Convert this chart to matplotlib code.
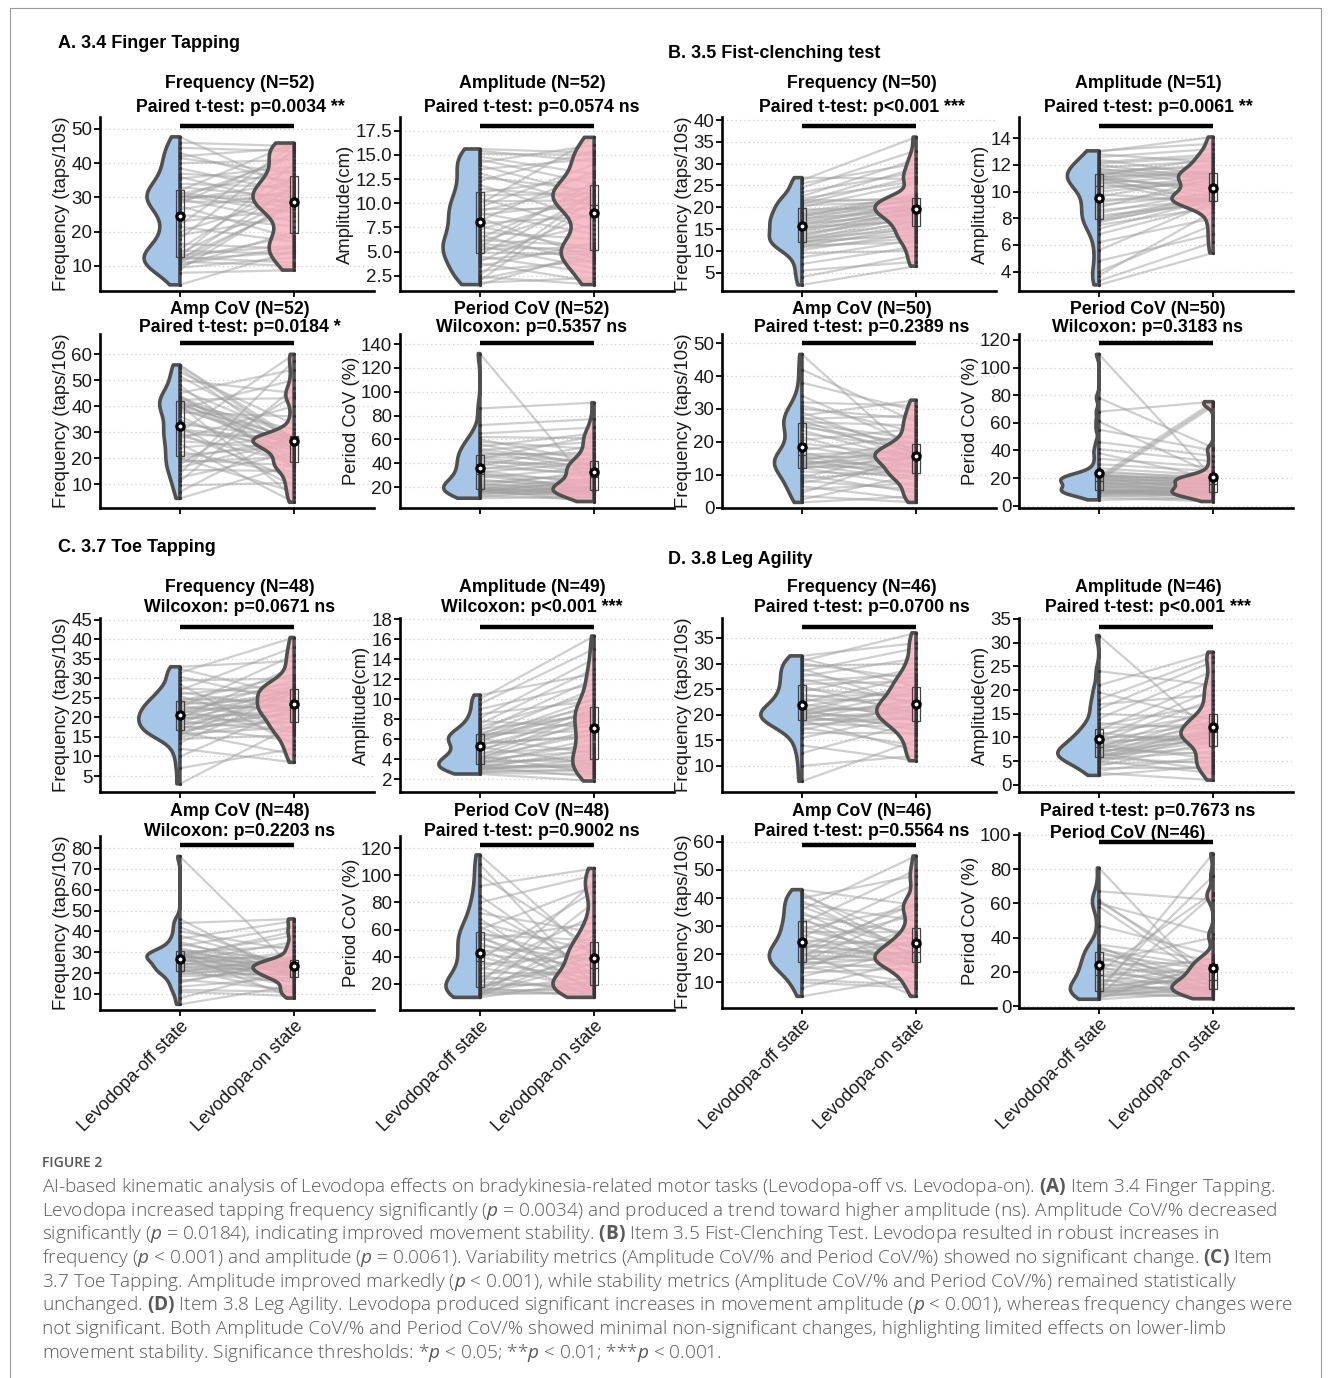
import numpy as np
import matplotlib
matplotlib.use("Agg")
import matplotlib.pyplot as plt
from matplotlib.patches import Polygon
from matplotlib.collections import LineCollection
from matplotlib.lines import Line2D

# ---- values (paired: off[i] <-> on[i]) ----
# A. 3.4 Finger tapping
a_freq_off = [4.5, 8.0, 9.0, 9.5, 10.0, 10.5, 11.0, 11.3, 11.6, 11.9, 12.0, 12.2, 12.5, 12.8, 13.2, 13.8, 14.5, 15.0, 16.5, 18.0, 19.0, 20.0, 21.5, 22.0, 23.0, 25.0, 26.5, 27.5, 28.2, 28.8, 29.2, 29.5, 29.8, 30.1, 30.4, 30.7, 31.0, 31.4, 32.0, 33.0, 34.0, 35.5, 36.0, 37.0, 38.5, 40.0, 41.5, 42.0, 43.0, 44.5, 46.0, 47.7]
a_freq_on = [14.5, 8.8, 29.3, 12.5, 20.0, 15.5, 28.3, 10.0, 33.5, 14.0, 18.8, 27.5, 11.0, 40.0, 16.0, 29.6, 13.5, 36.0, 15.0, 44.0, 24.5, 30.5, 17.0, 45.5, 26.5, 21.5, 32.0, 18.0, 43.0, 28.6, 34.5, 23.0, 42.0, 31.0, 29.0, 25.5, 38.0, 27.0, 45.9, 30.0, 33.0, 39.0, 28.0, 35.0, 31.5, 41.0, 37.0, 44.5, 34.0, 43.5, 45.0, 32.5]
a_amp_off = [1.6, 1.8, 2.0, 2.2, 2.4, 2.6, 3.0, 3.5, 3.8, 4.0, 4.2, 4.5, 4.7, 4.9, 5.1, 5.3, 5.5, 5.6, 5.8, 6.0, 6.2, 6.4, 6.7, 7.0, 7.3, 7.6, 7.9, 8.2, 8.5, 8.8, 9.0, 9.2, 9.4, 9.6, 9.9, 10.2, 10.5, 10.8, 11.1, 11.5, 11.9, 12.3, 12.7, 13.1, 13.5, 13.9, 14.2, 14.5, 14.8, 15.1, 15.4, 15.6]
a_amp_on = [5.0, 2.3, 10.5, 4.5, 1.6, 11.1, 4.1, 5.9, 1.9, 9.1, 5.2, 2.8, 10.9, 4.7, 7.8, 5.4, 12.2, 3.3, 4.9, 9.9, 5.6, 11.5, 3.8, 6.3, 10.7, 5.1, 8.7, 13.3, 4.3, 10.1, 6.8, 11.8, 9.4, 14.0, 16.8, 10.3, 7.3, 11.0, 12.7, 10.6, 8.3, 15.4, 11.3, 9.7, 14.6, 10.8, 16.0, 12.0, 13.0, 15.0, 14.3, 15.2]
a_ampcov_off = [4.5, 7.0, 9.5, 11.0, 12.5, 14.0, 15.5, 16.5, 17.5, 18.5, 19.3, 19.8, 20.0, 21.0, 22.5, 24.0, 25.5, 26.5, 27.5, 28.5, 29.0, 29.5, 30.0, 30.5, 31.0, 32.0, 33.0, 34.5, 36.0, 37.5, 38.5, 39.0, 39.5, 40.0, 40.4, 40.8, 41.2, 41.6, 42.0, 42.5, 43.0, 43.5, 44.0, 45.0, 46.5, 48.0, 50.0, 51.5, 53.0, 54.5, 55.5, 55.8]
a_ampcov_on = [17.5, 29.5, 10.5, 47.0, 22.0, 57.5, 15.0, 26.6, 44.0, 20.5, 17.2, 27.3, 7.0, 25.0, 13.5, 28.0, 3.0, 23.5, 40.0, 18.5, 27.9, 12.0, 59.9, 24.5, 26.9, 9.0, 28.2, 21.3, 16.8, 36.0, 26.3, 50.0, 22.5, 27.7, 5.0, 25.5, 31.0, 19.5, 27.1, 43.0, 24.0, 26.8, 17.7, 54.0, 28.1, 16.0, 45.0, 27.5, 33.0, 23.0, 26.0, 27.4]
a_percov_off = [10.7, 12.0, 13.0, 14.0, 14.8, 15.5, 16.0, 16.5, 17.0, 17.3, 17.6, 17.8, 18.0, 18.5, 19.0, 19.5, 20.0, 21.0, 22.0, 23.0, 24.0, 25.0, 26.5, 28.0, 29.5, 31.0, 31.5, 32.5, 33.5, 35.0, 36.5, 38.0, 39.5, 41.0, 42.5, 43.5, 44.5, 45.5, 47.0, 48.0, 50.0, 51.0, 52.0, 54.0, 56.0, 58.0, 60.0, 62.0, 65.0, 72.0, 86.0, 132.0]
a_percov_on = [12.0, 17.8, 9.5, 21.0, 14.0, 16.5, 26.5, 11.0, 19.5, 7.9, 15.5, 24.0, 13.0, 17.0, 28.0, 14.8, 18.6, 33.5, 20.0, 16.0, 30.5, 22.0, 17.4, 36.5, 19.0, 25.0, 18.2, 40.5, 23.0, 45.0, 31.5, 55.0, 29.5, 38.5, 32.5, 63.0, 34.5, 42.4, 49.0, 47.0, 35.5, 58.0, 39.5, 65.0, 37.5, 52.0, 41.5, 61.0, 70.0, 77.0, 90.8, 18.0]

# B. 3.5 Fist-clenching
b_freq_off = [2.2, 4.0, 5.5, 7.0, 8.5, 9.5, 10.2, 10.8, 11.0, 11.2, 11.5, 11.8, 12.0, 12.2, 12.5, 12.8, 13.0, 13.3, 13.6, 14.0, 14.4, 14.8, 15.1, 15.4, 15.7, 16.0, 16.3, 16.6, 16.9, 17.2, 17.5, 17.8, 18.1, 18.3, 18.6, 19.0, 19.5, 20.0, 20.5, 20.8, 21.0, 21.3, 21.6, 22.0, 22.5, 23.5, 24.5, 25.5, 26.2, 26.8]
b_freq_on = [6.5, 9.0, 7.5, 11.0, 12.5, 10.0, 14.0, 13.0, 15.5, 12.0, 14.5, 16.0, 17.0, 13.5, 18.0, 15.0, 16.5, 18.5, 19.0, 17.5, 19.2, 18.8, 20.0, 16.8, 19.5, 21.0, 18.2, 19.8, 20.5, 22.0, 19.4, 23.0, 20.2, 21.5, 21.6, 22.5, 19.7, 25.5, 21.2, 27.0, 22.2, 29.0, 21.8, 26.0, 31.0, 28.0, 33.0, 30.0, 36.1, 26.5]
b_amp_off = [3.0, 3.3, 3.7, 4.0, 4.8, 5.6, 6.2, 6.8, 7.2, 7.5, 7.7, 7.8, 7.9, 8.0, 8.2, 8.4, 8.6, 8.8, 9.0, 9.2, 9.4, 9.6, 9.8, 10.0, 10.2, 10.4, 10.6, 10.8, 10.9, 11.0, 11.1, 11.2, 11.3, 11.4, 11.5, 11.6, 11.8, 12.0, 11.2, 11.0, 12.2, 12.4, 12.6, 12.8, 13.0, 11.7, 10.7, 11.1, 12.1, 13.06, 10.9]
b_amp_on = [5.4, 6.2, 8.5, 7.5, 6.8, 9.2, 8.0, 9.0, 9.4, 8.8, 9.5, 9.3, 9.6, 9.7, 9.1, 10.0, 9.4, 11.0, 9.8, 10.3, 9.5, 11.2, 9.3, 10.8, 11.1, 10.5, 11.3, 9.6, 11.4, 10.2, 11.5, 9.9, 11.6, 12.0, 10.6, 11.8, 12.3, 11.0, 12.5, 9.2, 12.8, 11.2, 13.2, 12.2, 14.1, 10.9, 9.0, 11.4, 12.6, 13.6, 10.4]
b_ampcov_off = [1.6, 2.5, 3.5, 4.5, 5.5, 6.5, 7.5, 8.2, 8.8, 9.2, 10.0, 11.0, 12.0, 12.2, 12.5, 12.8, 13.1, 13.4, 13.7, 14.0, 14.3, 14.6, 15.0, 15.4, 15.8, 16.2, 16.8, 17.5, 18.5, 19.5, 20.5, 21.5, 22.5, 23.5, 24.5, 25.0, 25.5, 26.0, 26.5, 27.0, 27.5, 28.0, 29.0, 30.0, 31.0, 32.0, 34.0, 38.0, 42.0, 46.6]
b_ampcov_on = [3.5, 10.0, 1.6, 16.1, 7.5, 2.5, 14.0, 5.5, 11.5, 17.4, 4.5, 9.7, 15.2, 6.5, 12.5, 18.6, 8.5, 15.7, 10.5, 13.0, 20.2, 9.2, 16.5, 11.0, 14.6, 17.1, 10.3, 22.0, 13.5, 15.9, 24.0, 12.0, 18.2, 14.3, 19.5, 16.8, 21.0, 25.0, 14.9, 28.0, 17.8, 32.7, 16.3, 27.0, 23.0, 31.0, 18.9, 29.5, 26.0, 15.5]
b_percov_off = [4.2, 6.0, 7.0, 7.8, 8.4, 8.9, 9.3, 9.6, 9.9, 10.1, 10.3, 10.6, 11.0, 11.5, 12.0, 12.6, 13.2, 13.8, 14.4, 15.0, 15.6, 16.2, 16.8, 17.2, 17.6, 18.0, 18.4, 18.8, 19.2, 19.6, 20.0, 20.4, 20.8, 21.2, 21.6, 22.0, 22.2, 23.5, 25.0, 27.0, 30.0, 34.0, 38.0, 41.0, 46.0, 55.0, 61.0, 68.0, 78.0, 109.6]
b_percov_on = [5.5, 3.0, 8.0, 4.5, 9.0, 7.0, 12.0, 6.3, 10.5, 8.6, 14.0, 7.5, 9.6, 11.0, 8.3, 13.0, 15.5, 8.8, 12.5, 17.0, 10.0, 16.5, 13.5, 9.3, 19.0, 72.0, 14.5, 18.0, 73.5, 11.5, 16.0, 20.1, 75.0, 15.0, 19.6, 17.5, 18.5, 21.0, 19.3, 22.0, 25.0, 28.0, 19.9, 32.0, 36.0, 40.0, 23.0, 75.3, 42.0, 20.3]

# C. 3.7 Toe tapping
c_freq_off = [3.0, 7.0, 10.0, 12.0, 13.5, 14.5, 15.0, 15.5, 15.8, 16.0, 16.3, 16.6, 17.0, 17.4, 17.8, 18.0, 18.2, 18.6, 19.0, 19.4, 19.6, 19.8, 20.0, 20.2, 20.6, 21.0, 21.4, 21.8, 22.0, 22.2, 22.6, 23.0, 23.4, 23.8, 24.0, 24.2, 24.8, 25.5, 26.0, 26.5, 27.0, 27.5, 28.5, 29.5, 30.5, 31.5, 32.5, 33.0]
c_freq_on = [18.0, 12.0, 22.5, 8.5, 26.5, 15.5, 20.0, 27.5, 17.5, 23.0, 10.5, 21.5, 27.0, 19.0, 14.0, 24.5, 21.0, 28.0, 16.5, 26.0, 22.0, 33.0, 18.5, 27.2, 20.5, 29.5, 23.5, 16.0, 26.8, 22.8, 36.0, 19.5, 25.0, 27.8, 21.8, 31.0, 24.0, 17.0, 28.5, 22.2, 38.0, 26.2, 13.0, 30.0, 23.8, 40.5, 25.5, 34.5]
c_amp_off = [2.5, 2.6, 2.7, 2.8, 2.9, 3.0, 3.0, 3.1, 3.2, 3.3, 3.4, 3.5, 3.6, 3.7, 3.8, 3.9, 4.0, 4.1, 4.2, 4.3, 4.4, 4.6, 4.8, 5.0, 5.2, 5.4, 5.6, 5.8, 5.9, 6.0, 6.1, 6.2, 6.3, 6.4, 6.5, 6.6, 6.8, 7.0, 7.2, 7.5, 7.8, 8.1, 8.5, 9.0, 9.5, 10.0, 10.4, 3.2, 5.5]
c_amp_on = [1.8, 2.5, 3.0, 2.8, 4.0, 3.3, 3.6, 5.0, 2.2, 4.5, 3.1, 6.0, 4.2, 5.5, 3.8, 7.0, 4.8, 8.0, 6.5, 2.6, 8.5, 5.2, 9.0, 7.5, 3.5, 8.2, 6.2, 9.5, 8.8, 4.6, 10.0, 7.8, 8.6, 11.0, 6.8, 9.2, 12.0, 8.4, 10.5, 13.0, 7.2, 14.0, 9.8, 11.5, 15.0, 16.3, 12.5, 3.4, 6.4]
c_ampcov_off = [5.0, 8.0, 11.0, 13.5, 15.5, 17.0, 18.5, 19.5, 20.0, 20.5, 21.0, 21.5, 22.0, 22.5, 23.0, 23.5, 24.0, 24.5, 25.0, 25.5, 26.0, 26.5, 27.0, 27.5, 28.0, 28.3, 28.6, 29.0, 29.3, 29.6, 30.0, 30.5, 31.0, 32.0, 33.0, 34.0, 35.0, 36.5, 38.0, 40.0, 42.0, 44.0, 46.0, 12.0, 16.0, 27.8, 28.8, 76.0]
c_ampcov_on = [14.0, 22.0, 9.0, 18.0, 26.0, 12.0, 20.0, 24.0, 16.0, 28.0, 19.0, 23.0, 10.5, 25.0, 17.0, 21.0, 30.0, 22.5, 18.5, 35.0, 24.5, 20.5, 13.0, 27.0, 23.5, 19.5, 38.0, 21.5, 25.5, 15.0, 33.0, 22.8, 26.5, 18.8, 42.0, 24.2, 20.2, 45.0, 23.2, 31.0, 21.8, 46.0, 17.5, 11.0, 25.2, 40.0, 8.0, 22.2]
c_percov_off = [10.0, 11.0, 12.0, 12.5, 13.0, 13.5, 14.0, 14.5, 15.0, 15.5, 16.0, 17.0, 18.0, 19.0, 20.0, 21.5, 23.0, 24.5, 26.0, 28.0, 30.0, 32.0, 34.0, 36.0, 38.0, 40.0, 42.0, 44.0, 46.0, 48.0, 50.0, 52.0, 54.0, 55.0, 56.0, 58.0, 60.0, 62.0, 65.0, 68.0, 72.0, 76.0, 80.0, 85.0, 92.0, 100.0, 108.0, 115.0]
c_percov_on = [22.0, 45.0, 14.0, 60.0, 18.0, 35.0, 12.0, 80.0, 25.0, 15.0, 50.0, 11.0, 40.0, 20.0, 95.0, 16.0, 30.0, 55.0, 13.0, 28.0, 70.0, 17.0, 42.0, 24.0, 88.0, 19.0, 33.0, 48.0, 10.0, 38.0, 21.0, 65.0, 27.0, 15.5, 52.0, 36.0, 92.0, 23.0, 44.0, 12.5, 58.0, 31.0, 100.0, 26.0, 105.0, 46.0, 18.5, 40.5]

# D. 3.8 Leg agility
d_freq_off = [7.0, 10.0, 12.5, 14.0, 15.5, 16.5, 17.0, 17.5, 18.0, 18.3, 18.6, 18.9, 19.2, 19.4, 19.6, 19.8, 20.0, 20.2, 20.4, 20.6, 20.8, 21.0, 21.3, 21.6, 22.0, 22.4, 22.8, 23.2, 23.6, 24.0, 24.5, 25.0, 25.5, 26.0, 26.5, 27.0, 27.5, 28.0, 28.5, 29.0, 29.5, 30.0, 30.5, 31.0, 31.5, 19.0]
d_freq_on = [15.0, 12.0, 18.5, 11.0, 20.0, 16.5, 22.0, 14.0, 19.5, 17.5, 21.0, 13.0, 23.0, 18.0, 20.5, 24.5, 16.0, 22.5, 19.0, 26.0, 21.5, 17.0, 20.8, 25.0, 19.8, 27.5, 22.8, 18.8, 24.0, 21.2, 29.0, 23.5, 20.2, 26.5, 28.0, 22.2, 31.0, 24.8, 33.0, 21.8, 30.0, 27.0, 36.0, 25.5, 34.0, 19.2]
d_amp_off = [2.0, 2.5, 3.0, 3.5, 4.0, 4.5, 4.8, 5.0, 5.3, 5.5, 5.7, 5.9, 6.1, 6.3, 6.5, 6.7, 6.9, 7.1, 7.3, 7.5, 7.7, 7.9, 8.1, 8.4, 8.7, 9.0, 9.3, 9.6, 9.9, 10.2, 10.6, 11.0, 11.5, 12.0, 12.5, 13.0, 14.0, 15.0, 16.0, 17.0, 18.0, 19.5, 21.0, 24.0, 31.5, 6.0]
d_amp_on = [4.0, 1.0, 6.0, 3.5, 9.0, 5.0, 10.5, 2.5, 11.5, 7.0, 4.5, 12.0, 8.0, 10.0, 13.5, 3.0, 11.0, 9.5, 14.5, 6.5, 10.8, 16.0, 12.5, 5.5, 11.2, 18.0, 9.8, 13.0, 20.0, 10.2, 15.0, 8.5, 22.0, 12.8, 17.0, 11.8, 24.0, 14.0, 26.0, 19.0, 27.0, 13.8, 28.0, 21.0, 10.6, 9.2]
d_ampcov_off = [5.0, 8.0, 10.0, 12.0, 13.5, 14.5, 15.0, 15.5, 16.0, 16.5, 17.0, 17.5, 18.0, 18.5, 19.0, 19.5, 20.0, 20.5, 21.0, 21.5, 22.0, 22.5, 23.0, 23.5, 24.0, 25.0, 26.0, 27.0, 28.0, 28.5, 29.0, 30.0, 31.0, 32.0, 33.0, 34.0, 35.0, 36.0, 37.0, 38.0, 39.0, 40.0, 41.0, 42.0, 43.0, 11.0]
d_ampcov_on = [12.0, 18.0, 8.0, 22.0, 15.0, 30.0, 17.0, 10.0, 25.0, 19.0, 36.0, 14.0, 21.0, 17.5, 40.0, 18.5, 24.0, 5.0, 20.0, 38.0, 16.0, 26.0, 19.5, 34.0, 18.2, 23.0, 45.0, 15.5, 28.0, 20.5, 37.0, 17.8, 50.0, 22.5, 13.0, 27.0, 16.5, 55.0, 21.5, 32.0, 19.2, 48.0, 24.5, 18.8, 37.5, 9.0]
d_percov_off = [4.1, 4.8, 5.5, 6.0, 6.5, 7.0, 7.4, 7.8, 8.1, 8.4, 8.7, 9.0, 9.5, 10.0, 10.5, 11.0, 12.0, 13.0, 14.0, 15.0, 16.0, 17.0, 18.0, 19.0, 20.0, 21.0, 22.0, 23.0, 24.0, 25.0, 26.0, 27.5, 29.0, 30.5, 32.0, 33.0, 34.0, 35.0, 36.0, 47.0, 58.0, 60.0, 61.0, 62.0, 67.0, 80.6]
d_percov_on = [8.0, 25.0, 12.0, 65.0, 6.0, 9.0, 20.0, 14.0, 89.0, 5.0, 10.5, 18.0, 7.0, 22.0, 11.0, 76.0, 16.0, 8.5, 24.0, 13.0, 4.4, 28.0, 9.5, 15.0, 66.0, 10.0, 19.0, 7.5, 26.0, 12.5, 40.0, 17.0, 9.2, 21.0, 11.5, 23.0, 14.5, 6.5, 27.0, 30.0, 13.5, 42.0, 20.5, 16.5, 62.0, 10.8]

state_labels = ["Levodopa-off state", "Levodopa-on state"]

# ---- style ----
W, H = 1333, 1378
plt.rcParams['font.family'] = ['Liberation Sans', 'DejaVu Sans']
plt.rcParams['mathtext.fontset'] = 'custom'
plt.rcParams['mathtext.rm'] = 'Open Sans'
plt.rcParams['mathtext.it'] = 'Open Sans:italic'
plt.rcParams['mathtext.bf'] = 'Open Sans:bold'

OFF_COL = '#a6c6e8'
ON_COL = '#f5aebc'
EDGE = '#505050'
TICK_FS = 13.5
LAB_FS = 13.3
TITLE_FS = 12.8


def fx(x):
    return x / W


def fy(y):
    return 1 - y / H


def kde(vals, adjust=0.8):
    v = np.asarray(vals, float)
    n = len(v)
    iqr = np.subtract(*np.percentile(v, [75, 25]))
    bw = adjust * 0.9 * min(v.std(ddof=1), iqr / 1.34) * n ** -0.2
    grid = np.linspace(v.min(), v.max(), 250)
    d = np.exp(-0.5 * ((grid[:, None] - v[None, :]) / bw) ** 2).sum(1)
    return grid, d / (n * bw * np.sqrt(2 * np.pi))


def half_violin(ax, pos, grid, width, color, alpha):
    xs = np.concatenate([[pos], pos - width, [pos]])
    ys = np.concatenate([[grid[0]], grid, [grid[-1]]])
    ax.add_patch(Polygon(np.column_stack([xs, ys]), closed=True, facecolor=color,
                         alpha=alpha, edgecolor='none', zorder=2))
    ax.add_patch(Polygon(np.column_stack([xs, ys]), closed=True, facecolor='none',
                         edgecolor=EDGE, lw=2.6, joinstyle='round', zorder=2.5))


def draw_panel(ax, off, on, ylim, ticks, fmt, ylabel, xlabels=False):
    ax.set_xlim(0.3, 2.7)
    ax.set_ylim(*ylim)
    for t in ticks:
        ax.axhline(t, color='#cfcfcf', lw=0.9, ls=(0, (1, 2.5)), zorder=0)

    segs = [[(1, a), (2, b)] for a, b in zip(off, on)]
    ax.add_collection(LineCollection(segs, colors='#a0a0a0', linewidths=1.6,
                                     alpha=0.5, zorder=1))

    g0, d0 = kde(off)
    g1, d1 = kde(on)
    s = 0.36 / max(d0.max(), d1.max())
    half_violin(ax, 1, g0, d0 * s, OFF_COL, 1.0)
    half_violin(ax, 2, g1, d1 * s, ON_COL, 0.8)

    ax.boxplot([off, on], positions=[1, 2], widths=0.075, showfliers=False,
               showcaps=False, patch_artist=True, manage_ticks=False,
               boxprops=dict(facecolor='none', edgecolor='#444444', lw=0.9),
               medianprops=dict(color='#444444', lw=0.9),
               whiskerprops=dict(color='#444444', lw=0.9), zorder=3)
    for pos, vals in ((1, off), (2, on)):
        ax.plot([pos] * len(vals), vals, 'o', ms=1.3, color='#333333', zorder=4)
        m = np.mean(vals)
        ax.plot(pos, m, 'o', ms=6.5, color='black', zorder=5)
        ax.plot(pos, m, 'o', ms=1.8, color='white', zorder=6)

    ybar = ylim[1] - 0.05 * (ylim[1] - ylim[0])
    ax.plot([1, 2], [ybar, ybar], color='black', lw=3.2, solid_capstyle='butt', zorder=6)

    for sp in ('top', 'right'):
        ax.spines[sp].set_visible(False)
    for sp in ('left', 'bottom'):
        ax.spines[sp].set_linewidth(1.9)
    ax.set_yticks(ticks)
    ax.set_yticklabels([fmt.format(t) for t in ticks])
    ax.set_xticks([1, 2])
    ax.tick_params(axis='both', length=4, width=1.3, labelsize=TICK_FS,
                   labelcolor='#1a1a1a', pad=1.5)
    if xlabels:
        ax.set_xticklabels(state_labels, rotation=45, ha='right', va='top',
                           rotation_mode='anchor', fontsize=13)
    else:
        ax.set_xticklabels([])
    ax.set_ylabel(ylabel, fontsize=LAB_FS, color='#1a1a1a', labelpad=1)


FREQ = "Frequency (taps/10s)"
AMP = "Amplitude(cm)"
PCOV = "Period CoV (%)"

col_left = [100, 400, 722, 1019]
col_title = [240, 532, 862, 1148]
rows = [(117, 291, 84, 107), (334, 508, 310, 328), (618, 792, 587, 608), (836, 1010, 811, 832)]

panels = [
    # row 1
    (a_freq_off, a_freq_on, (2.7, 53.5), range(10, 51, 10), "{:d}", FREQ, "Frequency (N=52)", "Paired t-test: p=0.0034 **"),
    (a_amp_off, a_amp_on, (0.94, 18.9), [2.5, 5, 7.5, 10, 12.5, 15, 17.5], "{:.1f}", AMP, "Amplitude (N=52)", "Paired t-test: p=0.0574 ns"),
    (b_freq_off, b_freq_on, (0.8, 40.7), range(5, 41, 5), "{:d}", FREQ, "Frequency (N=50)", "Paired t-test: p<0.001 ***"),
    (b_amp_off, b_amp_on, (2.54, 15.6), range(4, 15, 2), "{:d}", AMP, "Amplitude (N=51)", "Paired t-test: p=0.0061 **"),
    # row 2
    (a_ampcov_off, a_ampcov_on, (0.8, 67.7), range(10, 61, 10), "{:d}", FREQ, "Amp CoV (N=52)", "Paired t-test: p=0.0184 *"),
    (a_percov_off, a_percov_on, (2.5, 148.4), range(20, 141, 20), "{:d}", PCOV, "Period CoV (N=52)", "Wilcoxon: p=0.5357 ns"),
    (b_ampcov_off, b_ampcov_on, (-0.1, 52.8), range(0, 51, 10), "{:d}", FREQ, "Amp CoV (N=50)", "Paired t-test: p=0.2389 ns"),
    (b_percov_off, b_percov_on, (-1.7, 124.3), range(0, 121, 20), "{:d}", PCOV, "Period CoV (N=50)", "Wilcoxon: p=0.3183 ns"),
    # row 3
    (c_freq_off, c_freq_on, (0.9, 45.5), range(5, 46, 5), "{:d}", FREQ, "Frequency (N=48)", "Wilcoxon: p=0.0671 ns"),
    (c_amp_off, c_amp_on, (0.7, 18.1), range(2, 19, 2), "{:d}", AMP, "Amplitude (N=49)", "Wilcoxon: p<0.001 ***"),
    (d_freq_off, d_freq_on, (4.9, 38.9), range(10, 36, 5), "{:d}", FREQ, "Frequency (N=46)", "Paired t-test: p=0.0700 ns"),
    (d_amp_off, d_amp_on, (-1.5, 35.2), range(0, 36, 5), "{:d}", AMP, "Amplitude (N=46)", "Paired t-test: p<0.001 ***"),
    # row 4
    (c_ampcov_off, c_ampcov_on, (2.3, 85.8), range(10, 81, 10), "{:d}", FREQ, "Amp CoV (N=48)", "Wilcoxon: p=0.2203 ns"),
    (c_percov_off, c_percov_on, (0.7, 128.9), range(20, 121, 20), "{:d}", PCOV, "Period CoV (N=48)", "Paired t-test: p=0.9002 ns"),
    (d_ampcov_off, d_ampcov_on, (0.85, 62.1), range(10, 61, 10), "{:d}", FREQ, "Amp CoV (N=46)", "Paired t-test: p=0.5564 ns"),
    (d_percov_off, d_percov_on, (-1.0, 101.0), range(0, 101, 20), "{:d}", PCOV, "Paired t-test: p=0.7673 ns", "Period CoV (N=46)"),
]

fig = plt.figure(figsize=(W / 100, H / 100), dpi=100)
fig.patch.set_facecolor('white')

for i, (off, on, ylim, ticks, fmt, ylab, t1, t2) in enumerate(panels):
    r, c = divmod(i, 4)
    top, bot, ty1, ty2 = rows[r]
    left = col_left[c]
    if i == 15:
        top, bot = 833, 1008
    elif i == 14:
        bot = 1008
    ax = fig.add_axes([fx(left), fy(bot), 274 / W, (bot - top) / H])
    draw_panel(ax, off, on, ylim, list(ticks), fmt, ylab, xlabels=(r == 3))
    tx = col_title[c]
    if i == 15:
        fig.text(fx(1148), fy(811), t1, ha='center', va='center', fontsize=TITLE_FS, weight='bold')
        fig.text(fx(1128), fy(833), t2, ha='center', va='center', fontsize=TITLE_FS, weight='bold')
    else:
        fig.text(fx(tx), fy(ty1), t1, ha='center', va='center', fontsize=TITLE_FS, weight='bold')
        fig.text(fx(tx), fy(ty2), t2, ha='center', va='center', fontsize=TITLE_FS, weight='bold')

# block headers
for x, y, s in [(58, 43, "A. 3.4 Finger Tapping"), (668, 54, "B. 3.5 Fist-clenching test"),
                (58, 548, "C. 3.7 Toe Tapping"), (668, 559, "D. 3.8 Leg Agility")]:
    fig.text(fx(x), fy(y), s, ha='left', va='center', fontsize=13, weight='bold')

# caption
fig.text(fx(42), fy(1163), "FIGURE 2", ha='left', va='center', fontsize=10,
         color='#555555', family='Open Sans', weight='semibold')
caption = [
    r"AI-based kinematic analysis of Levodopa effects on bradykinesia-related motor tasks (Levodopa-off vs. Levodopa-on). $\mathbf{(A)}$ Item 3.4 Finger Tapping.",
    r"Levodopa increased tapping frequency significantly ($p$ = 0.0034) and produced a trend toward higher amplitude (ns). Amplitude CoV/% decreased",
    r"significantly ($p$ = 0.0184), indicating improved movement stability. $\mathbf{(B)}$ Item 3.5 Fist-Clenching Test. Levodopa resulted in robust increases in",
    r"frequency ($p$ < 0.001) and amplitude ($p$ = 0.0061). Variability metrics (Amplitude CoV/% and Period CoV/%) showed no significant change. $\mathbf{(C)}$ Item",
    r"3.7 Toe Tapping. Amplitude improved markedly ($p$ < 0.001), while stability metrics (Amplitude CoV/% and Period CoV/%) remained statistically",
    r"unchanged. $\mathbf{(D)}$ Item 3.8 Leg Agility. Levodopa produced significant increases in movement amplitude ($p$ < 0.001), whereas frequency changes were",
    r"not significant. Both Amplitude CoV/% and Period CoV/% showed minimal non-significant changes, highlighting limited effects on lower-limb",
    r"movement stability. Significance thresholds: *$p$ < 0.05; **$p$ < 0.01; ***$p$ < 0.001.",
]
for k, line in enumerate(caption):
    fig.text(fx(42), fy(1187 + k * 23.7), line, ha='left', va='center', fontsize=13.65,
             color='#595959', family='Open Sans', weight='light')

# page frame
fig.add_artist(Line2D([fx(10), fx(10), fx(1321), fx(1321)], [fy(1378), fy(8), fy(8), fy(1378)],
                      transform=fig.transFigure, color='#9a9a9a', lw=0.8))

fig.savefig("out.png", dpi=100)
